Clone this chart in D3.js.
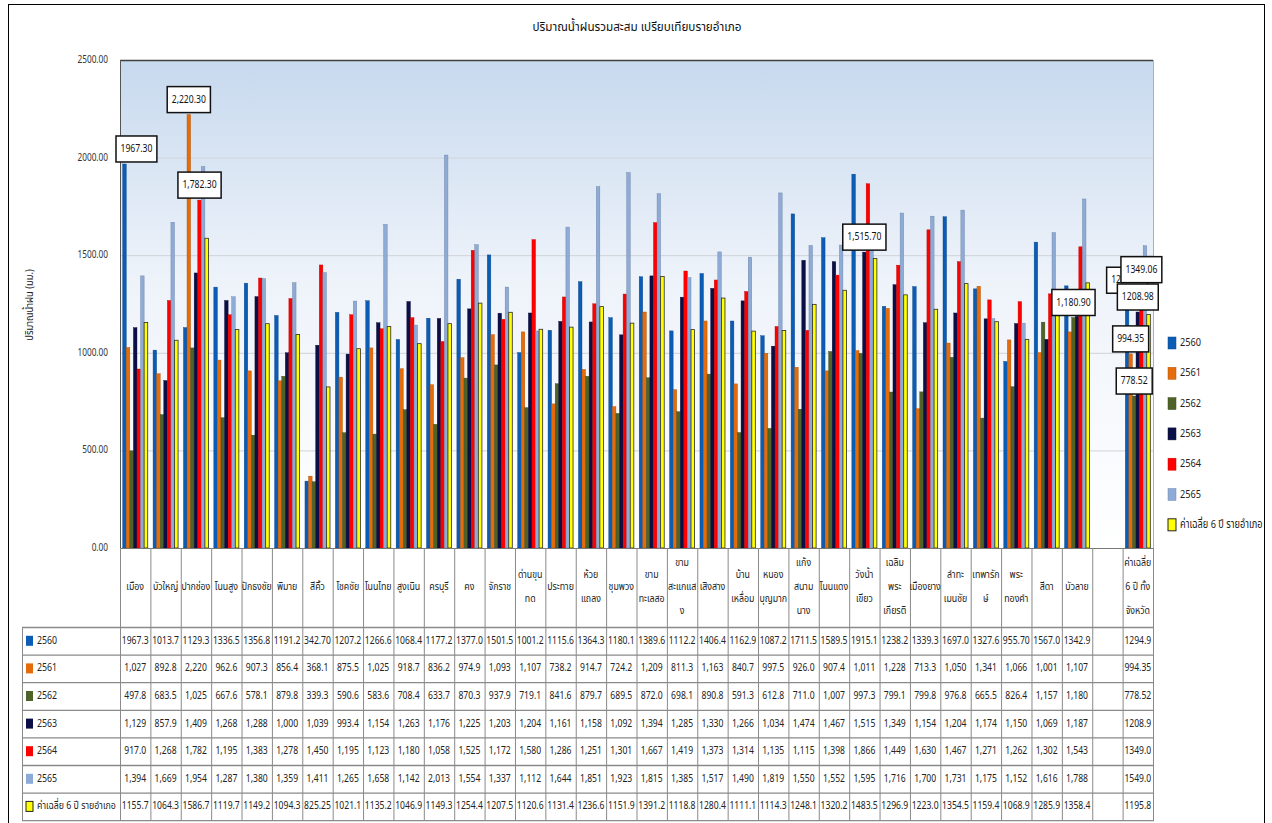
<!DOCTYPE html>
<html>
<head>
<meta charset="utf-8">
<script src="https://cdn.jsdelivr.net/npm/d3@7"></script>
<style>
  body { margin: 0; background: #fff; }
  svg { display: block; font-family: Tahoma, "Noto Sans Thai", Loma, Garuda, "Noto Sans", sans-serif; }
</style>
</head>
<body>
<svg id="chart" width="1272" height="823"></svg>
<script>
const width = 1272;
const height = 823;

// district names, "\n" = wrapped line in the table header
const categories = [
  "เมือง", "บัวใหญ่", "ปากช่อง", "โนนสูง", "ปักธงชัย", "พิมาย", "สีคิ้ว", "โชคชัย",
  "โนนไทย", "สูงเนิน", "ครบุรี", "คง", "จักราช", "ด่านขุน\nทด", "ประทาย", "ห้วย\nแถลง",
  "ชุมพวง", "ขาม\nทะเลสอ", "ขาม\nสะแกแส\nง", "เสิงสาง", "บ้าน\nเหลื่อม", "หนอง\nบุญมาก",
  "แก้ง\nสนาม\nนาง", "โนนแดง", "วังน้ำ\nเขียว", "เฉลิม\nพระ\nเกียรติ", "เมืองยาง",
  "ลำทะ\nเมนชัย", "เทพารัก\nษ์", "พระ\nทองคำ", "สีดา", "บัวลาย", "", "ค่าเฉลี่ย\n6 ปี ทั้ง\nจังหวัด"
];

const seriesNames = ["2560", "2561", "2562", "2563", "2564", "2565", "ค่าเฉลี่ย 6 ปี รายอำเภอ"];
const seriesColors = ["#0b5cb5", "#e46c0a", "#4f6228", "#0c0f45", "#ff0000", "#8eaad6", "#ffff00"];

const y2560 = [1967.3, 1013.7, 1129.3, 1336.5, 1356.8, 1191.2, 342.70, 1207.2, 1266.6, 1068.4, 1177.2,
  1377.0, 1501.5, 1001.2, 1115.6, 1364.3, 1180.1, 1389.6, 1112.2, 1406.4, 1162.9, 1087.2, 1711.5,
  1589.5, 1915.1, 1238.2, 1339.3, 1697.0, 1327.6, 955.70, 1567.0, 1342.9, null, 1294.9];
const y2561 = [1027, 892.8, 2220.3, 962.6, 907.3, 856.4, 368.1, 875.5, 1025, 918.7, 836.2,
  974.9, 1093, 1107, 738.2, 914.7, 724.2, 1209, 811.3, 1163, 840.7, 997.5, 926.0,
  907.4, 1011, 1228, 713.3, 1050, 1341, 1066, 1001, 1107, null, 994.35];
const y2562 = [497.8, 683.5, 1025, 667.6, 578.1, 879.8, 339.3, 590.6, 583.6, 708.4, 633.7,
  870.3, 937.9, 719.1, 841.6, 879.7, 689.5, 872.0, 698.1, 890.8, 591.3, 612.8, 711.0,
  1007, 997.3, 799.1, 799.8, 976.8, 665.5, 826.4, 1157, 1180.9, null, 778.52];
const y2563 = [1129, 857.9, 1409, 1268, 1288, 1000, 1039, 993.4, 1154, 1263, 1176,
  1225, 1203, 1204, 1161, 1158, 1092, 1394, 1285, 1330, 1266, 1034, 1474,
  1467, 1515.7, 1349, 1154, 1204, 1174, 1150, 1069, 1187, null, 1208.98];
const y2564 = [917.0, 1268, 1782.3, 1195, 1383, 1278, 1450, 1195, 1123, 1180, 1058,
  1525, 1172, 1580, 1286, 1251, 1301, 1667, 1419, 1373, 1314, 1135, 1115,
  1398, 1866, 1449, 1630, 1467, 1271, 1262, 1302, 1543, null, 1349.06];
const y2565 = [1394, 1669, 1954, 1287, 1380, 1359, 1411, 1265, 1658, 1142, 2013,
  1554, 1337, 1112, 1644, 1851, 1923, 1815, 1385, 1517, 1490, 1819, 1550,
  1552, 1595, 1716, 1700, 1731, 1175, 1152, 1616, 1788, null, 1549.0];
const yAvg = [1155.7, 1064.3, 1586.7, 1119.7, 1149.2, 1094.3, 825.25, 1021.1, 1135.2, 1046.9, 1149.3,
  1254.4, 1207.5, 1120.6, 1131.4, 1236.6, 1151.9, 1391.2, 1118.8, 1280.4, 1111.1, 1114.3, 1248.1,
  1320.2, 1483.5, 1296.9, 1223.0, 1354.5, 1159.4, 1068.9, 1285.9, 1358.4, null, 1195.8];

const seriesValues = [y2560, y2561, y2562, y2563, y2564, y2565, yAvg];

const yTicks = [0, 500, 1000, 1500, 2000, 2500];

// data labels shown on the chart: category index, series index, text
const dataLabels = [
  { cat: 0, s: 0, text: "1967.30" },
  { cat: 2, s: 1, text: "2,220.30" },
  { cat: 2, s: 4, text: "1,782.30" },
  { cat: 24, s: 3, text: "1,515.70" },
  { cat: 31, s: 2, text: "1,180.90" },
  { cat: 33, s: 0, text: "1294.90" },
  { cat: 33, s: 1, text: "994.35" },
  { cat: 33, s: 2, text: "778.52" },
  { cat: 33, s: 3, text: "1208.98" },
  { cat: 33, s: 4, text: "1349.06" },
];

const plot = { left: 120, right: 1153, top: 60, bottom: 548 };
const table = { left: 22, headerBottom: 627, rowH: 27.6 };
const lineColor = "#8a8a8a";

const svg = d3.select("#chart");

function squeezeText(parent, x, y, str, opts = {}) {
  const { anchor = "middle", size = 11, sx = 0.8, fill = "#222" } = opts;
  return parent
    .append("text")
    .attr("transform", `translate(${x},${y}) scale(${sx},1)`)
    .attr("text-anchor", anchor)
    .attr("dominant-baseline", "middle")
    .attr("font-size", size)
    .attr("fill", fill)
    .text(str);
}

function truncFixed(v, digits) {
  const f = Math.pow(10, digits);
  return (Math.trunc(v * f + 1e-6) / f).toFixed(digits);
}

function tableText(v, si, ci) {
  if (v == null) return "";
  const plain = si === 0 || si === 6 || ci === categories.length - 1;
  if (plain) return v >= 1000 ? truncFixed(v, 1) : truncFixed(v, 2);
  return v >= 1000 ? d3.format(",")(Math.trunc(v)) : truncFixed(v, 1);
}

// outer frame
svg.append("rect")
  .attr("x", 8.5).attr("y", 4.5)
  .attr("width", 1256).attr("height", 830)
  .attr("fill", "#fff").attr("stroke", "#000").attr("stroke-width", 1);

// title
squeezeText(svg, 637, 27, "ปริมาณน้ำฝนรวมสะสม เปรียบเทียบรายอำเภอ", { size: 13, sx: 0.9, fill: "#111" });

const x0 = d3.scaleBand()
  .domain(d3.range(categories.length))
  .range([plot.left, plot.right]);

const x1 = d3.scaleBand()
  .domain(d3.range(seriesNames.length))
  .range([0, x0.bandwidth()])
  .paddingOuter(0.75);

const y = d3.scaleLinear().domain([0, 2500]).range([plot.bottom, plot.top]);

// plot background gradient
const defs = svg.append("defs");
const grad = defs.append("linearGradient")
  .attr("id", "plotBg").attr("x1", 0).attr("y1", 0).attr("x2", 0).attr("y2", 1);
grad.append("stop").attr("offset", "0%").attr("stop-color", "#c7d9ee");
grad.append("stop").attr("offset", "45%").attr("stop-color", "#eef3fa");
grad.append("stop").attr("offset", "100%").attr("stop-color", "#ffffff");

svg.append("rect")
  .attr("x", plot.left).attr("y", plot.top)
  .attr("width", plot.right - plot.left).attr("height", plot.bottom - plot.top)
  .attr("fill", "url(#plotBg)");

// gridlines
svg.append("g")
  .selectAll("line")
  .data(yTicks.filter((t) => t > 0 && t < 2500))
  .join("line")
  .attr("x1", plot.left).attr("x2", plot.right)
  .attr("y1", (t) => y(t) + 0.5).attr("y2", (t) => y(t) + 0.5)
  .attr("stroke", "#cfd3d8").attr("stroke-width", 1);

// plot border
svg.append("line")
  .attr("x1", plot.left).attr("x2", plot.right)
  .attr("y1", plot.top + 0.5).attr("y2", plot.top + 0.5)
  .attr("stroke", "#404040").attr("stroke-width", 1.5);
svg.append("line")
  .attr("x1", plot.left + 0.5).attr("x2", plot.left + 0.5)
  .attr("y1", plot.top).attr("y2", plot.bottom)
  .attr("stroke", "#555").attr("stroke-width", 1);
svg.append("line")
  .attr("x1", plot.right + 0.5).attr("x2", plot.right + 0.5)
  .attr("y1", plot.top).attr("y2", plot.bottom)
  .attr("stroke", "#b0b0b0").attr("stroke-width", 1);

// y tick labels
const yAxisG = svg.append("g");
yTicks.forEach((t) => {
  squeezeText(yAxisG, 108, y(t), d3.format(".2f")(t), { anchor: "end", size: 11, sx: 0.75, fill: "#333" });
});

// y axis title
svg.append("text")
  .attr("transform", `translate(30,305) rotate(-90) scale(0.85,1)`)
  .attr("text-anchor", "middle")
  .attr("dominant-baseline", "middle")
  .attr("font-size", 11)
  .attr("fill", "#222")
  .text("ปริมาณน้ำฝน (มม.)");

// bars
const barData = [];
seriesValues.forEach((vals, si) => {
  vals.forEach((v, ci) => {
    if (v != null) barData.push({ si, ci, v });
  });
});

svg.append("g")
  .selectAll("rect")
  .data(barData)
  .join("rect")
  .attr("x", (d) => x0(d.ci) + x1(d.si))
  .attr("y", (d) => y(d.v))
  .attr("width", x1.bandwidth())
  .attr("height", (d) => y(0) - y(d.v))
  .attr("fill", (d) => seriesColors[d.si])
  .attr("stroke", (d) => (d.si === 6 ? "#2a2a2a" : d3.color(seriesColors[d.si]).darker(0.8)))
  .attr("stroke-width", (d) => (d.si === 6 ? 0.8 : 0.4));

// x axis line
svg.append("line")
  .attr("x1", plot.left).attr("x2", plot.right)
  .attr("y1", plot.bottom + 0.5).attr("y2", plot.bottom + 0.5)
  .attr("stroke", "#777").attr("stroke-width", 1);

// data labels
const labelG = svg.append("g");
dataLabels.forEach((lab) => {
  const v = seriesValues[lab.s][lab.cat];
  const cx = x0(lab.cat) + x1(lab.s) + x1.bandwidth() / 2;
  const g = labelG.append("g");
  const rect = g.append("rect");
  const t = squeezeText(g, 0, 0, lab.text, { size: 11.5, sx: 0.75, fill: "#111" });
  const w = t.node().getComputedTextLength() * 0.75 + 9;
  const h = 26;
  const left = Math.max(cx - w / 2, plot.left - 4);
  const top = y(v) - h - 2;
  rect.attr("x", left).attr("y", top).attr("width", w).attr("height", h)
    .attr("fill", "#fff").attr("stroke", "#111").attr("stroke-width", 1.5);
  t.attr("transform", `translate(${left + w / 2},${top + h / 2}) scale(0.75,1)`);
});

// legend
const legendG = svg.append("g");
seriesNames.forEach((name, i) => {
  const ly = 343 + i * 30.3;
  legendG.append("rect")
    .attr("x", 1168).attr("y", ly - 6).attr("width", 8).attr("height", 12)
    .attr("fill", seriesColors[i])
    .attr("stroke", i === 6 ? "#222" : d3.color(seriesColors[i]).darker(0.6))
    .attr("stroke-width", i === 6 ? 1 : 0.5);
  squeezeText(legendG, 1180, ly, name, { anchor: "start", size: 11.5, sx: 0.8, fill: "#222" });
});

// data table
const tableG = svg.append("g");
const colEdges = d3.range(categories.length + 1).map((i) =>
  i < categories.length ? x0(i) : plot.right
);
const tableBottom = table.headerBottom + table.rowH * seriesNames.length;

// vertical lines
colEdges.forEach((xe) => {
  tableG.append("line")
    .attr("x1", xe + 0.5).attr("x2", xe + 0.5)
    .attr("y1", plot.bottom).attr("y2", tableBottom)
    .attr("stroke", lineColor);
});
tableG.append("line")
  .attr("x1", table.left + 0.5).attr("x2", table.left + 0.5)
  .attr("y1", table.headerBottom).attr("y2", tableBottom)
  .attr("stroke", lineColor);

// horizontal lines
d3.range(seriesNames.length + 1).forEach((r) => {
  const yy = table.headerBottom + r * table.rowH;
  tableG.append("line")
    .attr("x1", table.left).attr("x2", plot.right + 1)
    .attr("y1", yy + 0.5).attr("y2", yy + 0.5)
    .attr("stroke", lineColor).attr("stroke-width", 1.3);
});

// header names
categories.forEach((name, ci) => {
  if (!name) return;
  const lines = name.split("\n");
  const cx = x0(ci) + x0.bandwidth() / 2;
  lines.forEach((ln, li) => {
    const ly = 587 + (li - (lines.length - 1) / 2) * 24;
    squeezeText(tableG, cx, ly, ln, { size: 11, sx: 0.8, fill: "#222" });
  });
});

// rows
seriesNames.forEach((name, si) => {
  const cy = table.headerBottom + table.rowH * (si + 0.5);
  tableG.append("rect")
    .attr("x", 26).attr("y", cy - 5).attr("width", 7).attr("height", 10)
    .attr("fill", seriesColors[si])
    .attr("stroke", si === 6 ? "#222" : "none")
    .attr("stroke-width", 1);
  squeezeText(tableG, 37, cy, name, { anchor: "start", size: 11, sx: 0.8, fill: "#222" });
  seriesValues[si].forEach((v, ci) => {
    const cx = x0(ci) + x0.bandwidth() / 2;
    squeezeText(tableG, cx, cy, tableText(v, si, ci), { size: 11, sx: 0.78, fill: "#222" });
  });
});
</script>
</body>
</html>
